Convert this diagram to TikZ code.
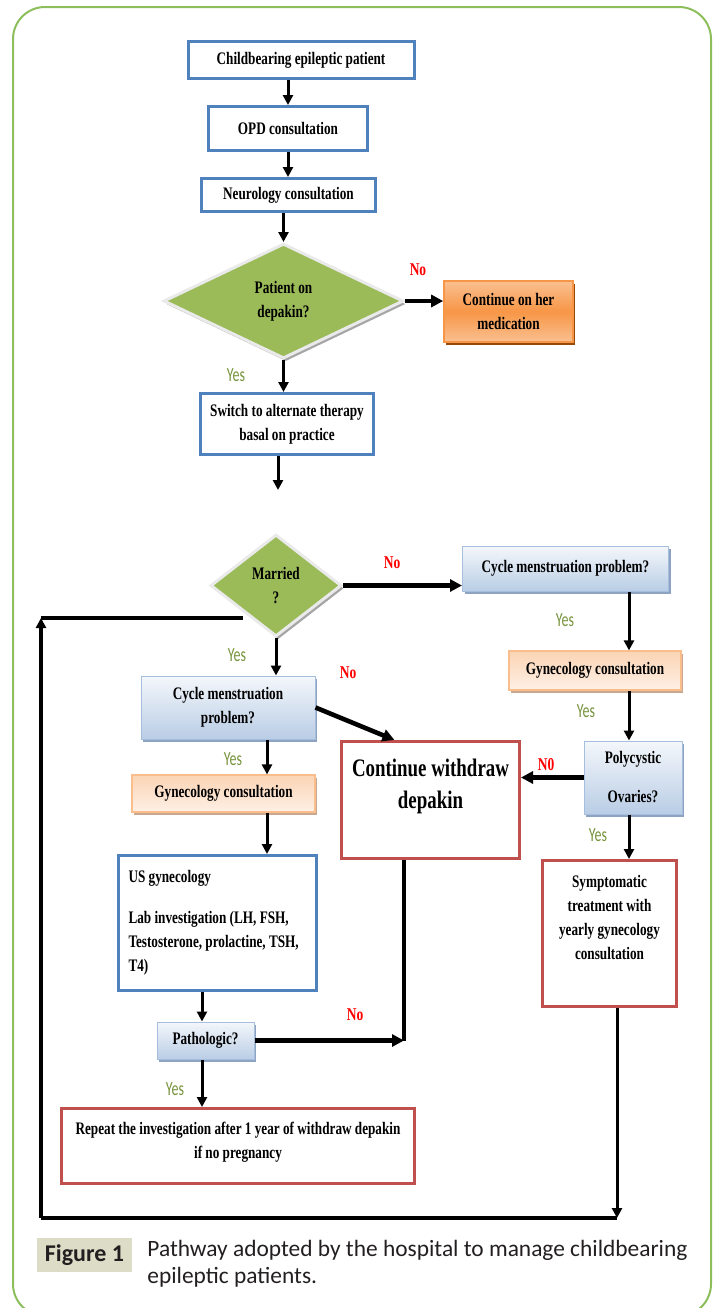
\documentclass[tikz,border=0pt]{standalone}
\usepackage{fontspec}
\usepackage{xcolor}
\usetikzlibrary{arrows.meta,positioning,shapes.geometric,shadows}
\newfontfamily\flowfont[FakeStretch=0.75]{Liberation Serif}
\newfontfamily\tagfont[FakeStretch=0.7]{Carlito}
\newfontfamily\capfont{Carlito}
\definecolor{bluebd}    {HTML}{4F81BD}
\definecolor{redbd}     {HTML}{C0504D}
\definecolor{decfill}   {HTML}{9BBB59}
\definecolor{decline}   {HTML}{EAEAEA}
\definecolor{decshadow} {HTML}{A6A6A6}
\definecolor{qtop}      {HTML}{F4F7FB}
\definecolor{qbot}      {HTML}{B9CDE5}
\definecolor{qline}     {HTML}{A7BFDE}
\definecolor{qshadow}   {HTML}{8EA3C2}
\definecolor{gytop}     {HTML}{FBD4B4}
\definecolor{gybot}     {HTML}{FEF0E6}
\definecolor{gyline}    {HTML}{F9BE8C}
\definecolor{gyshadow}  {HTML}{C8A890}
\definecolor{ortop}     {HTML}{FAC090}
\definecolor{ormid}     {HTML}{F79646}
\definecolor{orshadow}  {HTML}{984807}
\definecolor{yesgreen}  {HTML}{77933C}
\definecolor{nored}     {HTML}{FF0000}
\definecolor{framegreen}{HTML}{8CBE5C}
\definecolor{figbg}     {HTML}{DDDCC6}
\definecolor{captext}   {HTML}{231F20}
\tikzset{
  box/.style    ={font=\flowfont\bfseries\fontsize{8.8}{12}\selectfont,
                  align=center, inner sep=0pt},
  bbox/.style   ={box, draw=bluebd, fill=white, line width=1.5pt},
  rbox/.style   ={box, draw=redbd, fill=white, line width=1.5pt},
  qbox/.style   ={box, draw=qline, line width=0.5pt, top color=qtop, bottom color=qbot,
                  drop shadow={shadow xshift=1pt, shadow yshift=-1.5pt,
                               fill=qshadow, opacity=1}},
  gybox/.style  ={box, draw=gyline, line width=0.6pt, top color=gytop, bottom color=gybot,
                  drop shadow={shadow xshift=1pt, shadow yshift=-1.5pt,
                               fill=gyshadow, opacity=1}},
  obox/.style   ={box, draw=ormid, line width=0.8pt, top color=ortop, bottom color=ortop,
                  middle color=ormid,
                  drop shadow={shadow xshift=1pt, shadow yshift=-1.5pt,
                               fill=orshadow, opacity=1}},
  dec/.style    ={box, diamond, draw=decline, fill=decfill, line width=1.5pt,
                  drop shadow={shadow xshift=1.2pt, shadow yshift=-1.5pt,
                               fill=decshadow, opacity=1}},
  arr/.style    ={-{Triangle[length=5pt,width=5pt]}, line width=1.5pt},
  barr/.style   ={-{Triangle[length=6pt,width=6pt]}, line width=2.3pt},
  link/.style   ={line width=2pt},
  yes/.style    ={font=\tagfont\fontsize{10}{12}\selectfont, text=yesgreen},
  no/.style     ={font=\flowfont\bfseries\fontsize{9}{11}\selectfont, text=nored},
}

\begin{document}
\begin{tikzpicture}[x=0.5pt,y=-0.5pt]
  \useasboundingbox (0,0) rectangle (721,1308);
  \draw[framegreen, line width=1pt, rounded corners=16pt] (13,7) rectangle (711,1316);

  % first part
  \node[bbox,minimum width=113pt,minimum height=18.5pt] (start) at (301,60)
    {Childbearing epileptic patient};
  \node[bbox,minimum width=79.5pt,minimum height=22pt] (opd) at (288,128.5)
    {OPD consultation};
  \node[bbox,minimum width=87pt,minimum height=16.5pt] (neuro) at (288.5,195)
    {Neurology consultation};
  \node[dec,minimum width=120pt,minimum height=57.5pt] (depq) at (283.5,301)
    {Patient on\\depakin?};
  \node[obox,minimum width=64.5pt,minimum height=30.5pt] (cont) at (508.5,311.5)
    {Continue on her\\medication};
  \node[bbox,minimum width=86.5pt,minimum height=30.5pt] (switch) at (287,424)
    {Switch to alternate therapy\\basal on practice};
  \coordinate (swend) at (278,490);

  % second part
  \node[dec,minimum width=65.5pt,minimum height=51pt] (married) at (276,585.5)
    {Married\\?};
  \node[qbox,minimum width=103pt,minimum height=22.5pt] (cycR) at (565.5,568.5)
    {Cycle menstruation problem?};
  \node[gybox,minimum width=86pt,minimum height=19.5pt] (gynR) at (595,670.5)
    {Gynecology consultation};
  \node[qbox,minimum width=49pt,minimum height=36.5pt] (poly) at (633,777.5)
    {Polycystic\\[7.5pt]Ovaries?};
  \node[rbox,minimum width=89pt,minimum height=58.5pt,
        font=\flowfont\bfseries\fontsize{12.6}{16}\selectfont] (withdr) at (430.5,800)
    {Continue withdraw\\depakin\\\mbox{}};
  \node[rbox,minimum width=67pt,minimum height=73pt] (symp) at (609.5,933.5)
    {Symptomatic\\treatment with\\yearly gynecology\\consultation\\[4.5pt]\mbox{}};
  \node[qbox,minimum width=87pt,minimum height=31.5pt] (cycL) at (228,707.5)
    {Cycle menstruation\\problem?};
  \node[gybox,minimum width=91.5pt,minimum height=18.5pt] (gynL) at (223.5,793.5)
    {Gynecology consultation};
  \node[bbox,align=flush left,text width=89pt,inner xsep=5pt,minimum height=67.5pt] (us)
    at (217.5,923)
    {US gynecology\\[8.5pt]Lab investigation (LH, FSH,\\Testosterone, prolactine, TSH,\\T4)};
  \node[qbox,minimum width=48.5pt,minimum height=18.5pt] (patho) at (205.5,1040.5)
    {Pathologic?};
  \node[rbox,minimum width=176.5pt,minimum height=37.5pt] (repeat) at (238,1146)
    {Repeat the investigation after 1 year of withdraw depakin\\if no pregnancy\\[-6.5pt]\mbox{}};

  \coordinate (rcol) at (629,0);
  \coordinate (lcol) at (267,0);
  \coordinate (pcol) at (202,0);
  \coordinate (wcol) at (404,0);
  \coordinate (tl) at (41,618);
  \coordinate (bl) at (41,1218);
  \coordinate (br) at (617,1218);

  \draw[arr] (opd.north |- start.south) -- (opd.north);
  \draw[arr] (opd.south) -- (opd.south |- neuro.north);
  \draw[arr] (depq.north |- neuro.south) -- (depq.north);
  \draw[barr] (depq.east) -- (depq.east -| cont.west);
  \draw[arr] (depq.south) -- (depq.south |- switch.north);
  \draw[arr] (switch.south -| swend) -- (swend);

  \draw[barr] (married.east) -- (married.east -| cycR.west);
  \draw[arr] (cycR.south -| rcol) -- (gynR.north -| rcol);
  \draw[arr] (gynR.south -| rcol) -- (poly.north -| rcol);
  \draw[barr] (poly.west) -- (poly.west -| withdr.east);
  \draw[arr] (poly.south -| rcol) -- (symp.north -| rcol);
  \draw[arr] (married.south) -- (married.south |- cycL.north);
  \draw[barr] (cycL.east) -- ([xshift=-18pt]withdr.north);
  \draw[arr] (cycL.south -| lcol) -- (gynL.north -| lcol);
  \draw[arr] (gynL.south -| lcol) -- (us.north -| lcol);
  \draw[arr] (us.south -| pcol) -- (patho.north -| pcol);
  \draw[arr] (patho.south -| pcol) -- (repeat.north -| pcol);
  \draw[link] (withdr.south -| wcol) -- (patho.east -| wcol);
  \draw[barr] (patho.east) -- (patho.east -| wcol);

  % loop back
  \draw[link] (married.south west |- tl) -- (tl);
  \draw[arr,line width=2pt] (bl) -- (tl);
  \draw[link] (bl) -- (br);
  \draw[arr] (symp.south -| br) -- (br);

  \node[no]  (noA)  at (418,270)  {No};
  \node[yes] (yesA) at (236,375)  {Yes};
  \node[no]  (noB)  at (392,563)  {No};
  \node[yes] (yesB) at (565,620)  {Yes};
  \node[yes] (yesC) at (237,655)  {Yes};
  \node[no]  (noC)  at (348,673)  {No};
  \node[yes] (yesD) at (586,711)  {Yes};
  \node[yes] (yesE) at (233,759)  {Yes};
  \node[no]  (noD)  at (546,765)  {N0};
  \node[yes] (yesF) at (598,835)  {Yes};
  \node[no]  (noE)  at (355,1015) {No};
  \node[yes] (yesG) at (175,1089) {Yes};

  % caption
  \node[fill=figbg,minimum width=47.5pt,minimum height=17pt,inner sep=0pt,
        font=\capfont\bfseries\fontsize{12}{14}\selectfont,text=captext] (figlbl)
    at (84.5,1255) {Figure 1};
  \node[anchor=north west,inner sep=0pt,align=left,text=captext,
        font=\capfont\fontsize{11.7}{13.5}\selectfont] (capt) at (147,1240)
    {Pathway adopted by the hospital to manage childbearing\\epileptic patients.};
\end{tikzpicture}
\end{document}
